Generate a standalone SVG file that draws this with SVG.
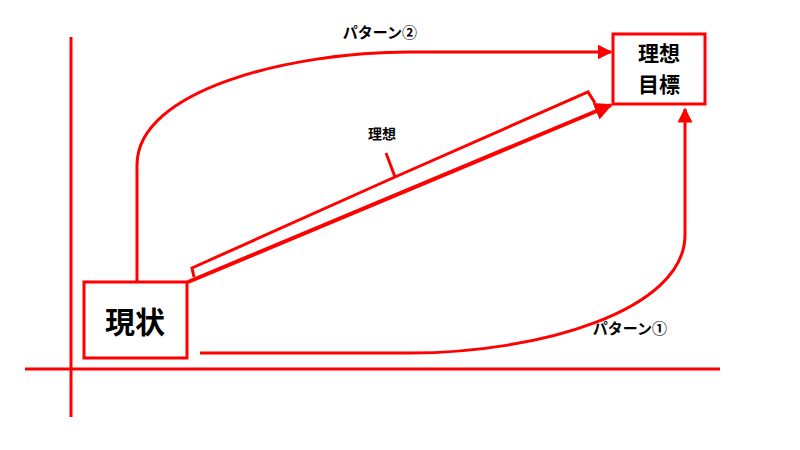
<svg xmlns="http://www.w3.org/2000/svg" width="800" height="450" viewBox="0 0 800 450">
<defs>
<style>
.ln{fill:none;stroke:#ff0000;stroke-width:3}
.box{fill:#ffffff;stroke:#ff0000;stroke-width:3}
.t{font-family:"Noto Sans CJK JP","Noto Sans CJK SC",sans-serif;font-weight:bold;fill:#000000;text-anchor:middle}
</style>
<marker id="ah" viewBox="0 0 10 10" refX="9" refY="5" markerWidth="5" markerHeight="5" orient="auto" markerUnits="strokeWidth">
<path d="M0,0 L10,5 L0,10 Z" fill="#ff0000"/>
</marker>
<marker id="ah2" viewBox="0 0 10 10" refX="9" refY="5" markerWidth="4.5" markerHeight="4.5" orient="auto" markerUnits="strokeWidth">
<path d="M0,0 L10,5 L0,10 Z" fill="#ff0000"/>
</marker>
</defs>
<rect width="800" height="450" fill="#ffffff"/>
<g id="axes">
<line class="ln" x1="71" y1="37" x2="71" y2="417"/>
<line class="ln" x1="25" y1="369" x2="720" y2="369"/>
</g>
<g id="connectors">
<path class="ln" d="M137,282 L137,165 C137,90 290,52 410,52 L611,52" marker-end="url(#ah)"/>
<path class="ln" d="M200,353 L410,353 C540,353 685,310 685,235 L685,109" marker-end="url(#ah)"/>
<line class="ln" style="stroke-width:4" x1="188" y1="282" x2="611" y2="105" marker-end="url(#ah2)"/>
<path class="ln" d="M194,277 L192,268 L395,177 L588,92 L595,103"/>
<path class="ln" d="M395,177 L386,153"/>
</g>
<g id="label-riso">
<text class="t" x="382" y="139" font-size="14">理想</text>
</g>
<g id="label-p2">
<text class="t" x="380" y="38" font-size="15">パターン②</text>
</g>
<g id="label-p1">
<text class="t" x="630" y="334" font-size="15">パターン①</text>
</g>
<g id="node-goal">
<rect class="box" x="613" y="34" width="92" height="70"/>
<text class="t" x="659" y="61" font-size="21">理想</text>
<text class="t" x="659" y="92" font-size="21">目標</text>
</g>
<g id="node-genjo">
<rect class="box" x="84" y="282" width="103" height="76"/>
<text class="t" x="135" y="333" font-size="30">現状</text>
</g>
</svg>
